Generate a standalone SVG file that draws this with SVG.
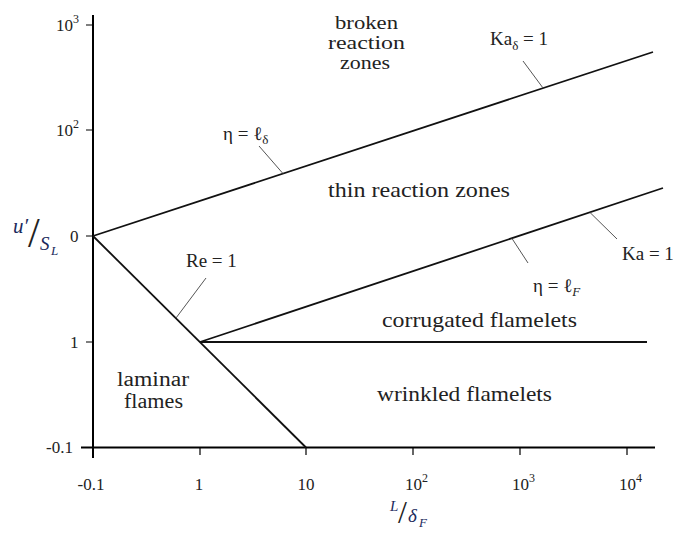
<svg xmlns="http://www.w3.org/2000/svg" width="675" height="533" viewBox="0 0 675 533">
<style>
.axis{stroke:#000;stroke-width:2;fill:none}
.tick{stroke:#000;stroke-width:1.2;fill:none}
.curve{stroke:#111;stroke-width:1.8;fill:none}
.leader{stroke:#555;stroke-width:1;fill:none}
text{font-family:"Liberation Serif","DejaVu Serif",serif;fill:#222}
.tk{font-size:17px}
.rg{font-size:21px}
.rs{font-size:20px}
.rb{font-size:18px}
.ln{font-size:19px}
.math{font-family:"Liberation Serif","DejaVu Serif",serif;font-style:italic;fill:#1b2a5c}
</style>
<rect width="675" height="533" fill="#fff"/>
<g id="axes">
<line class="axis" x1="93" y1="15" x2="93" y2="458"/>
<line class="axis" x1="81" y1="447.5" x2="655" y2="447.5"/>
<path class="tick" d="M86,25H93M86,130H93M86,236H93M86,342H93M200,447V455M306,447V455M413,447V455M520,447V455M627,447V455"/>
<text class="tk" x="56" y="31">10<tspan font-size="12" dy="-8">3</tspan></text>
<text class="tk" x="56" y="136">10<tspan font-size="12" dy="-8">2</tspan></text>
<text class="tk" x="70" y="242">0</text>
<text class="tk" x="70" y="348">1</text>
<text class="tk" x="46" y="453">-0.1</text>
<text class="tk" x="91" y="490" text-anchor="middle">-0.1</text>
<text class="tk" x="199" y="490" text-anchor="middle">1</text>
<text class="tk" x="306" y="490" text-anchor="middle">10</text>
<text class="tk" x="405" y="490">10<tspan font-size="12" dy="-8">2</tspan></text>
<text class="tk" x="512" y="490">10<tspan font-size="12" dy="-8">3</tspan></text>
<text class="tk" x="619" y="490">10<tspan font-size="12" dy="-8">4</tspan></text>
</g>
<g id="y-title">
<text class="math" x="13" y="233" font-size="21">u′</text>
<text x="28" y="247" font-size="42" fill="#111">/</text>
<text class="math" x="40" y="250" font-size="19">S</text>
<text class="math" x="51" y="255" font-size="13">L</text>
</g>
<g id="x-title">
<text class="math" x="390" y="511" font-size="15">L</text>
<text x="398" y="523" font-size="32" fill="#111">/</text>
<text class="math" x="408" y="522" font-size="19">δ</text>
<text class="math" x="419" y="527" font-size="13">F</text>
</g>
<g id="connectors">
<line id="eta-delta" class="curve" x1="93" y1="236" x2="653" y2="52"/>
<line id="re1" class="curve" x1="93" y1="236" x2="306" y2="447.5"/>
<line id="ka1" class="curve" x1="200" y1="342" x2="663" y2="188"/>
<line id="corr" class="curve" x1="200" y1="342" x2="647" y2="342"/>
<line class="leader" x1="259" y1="146" x2="283" y2="173.6"/>
<line class="leader" x1="523" y1="61" x2="543" y2="88"/>
<line class="leader" x1="206" y1="278" x2="176" y2="318"/>
<line class="leader" x1="512" y1="238.5" x2="528" y2="263"/>
<line class="leader" x1="590" y1="212.5" x2="617" y2="239"/>
</g>
<g id="label-eta-delta"><text class="ln" x="223" y="140">η = ℓ<tspan font-size="13" dy="4">δ</tspan></text></g>
<g id="label-ka-delta"><text class="ln" x="490" y="45">Ka<tspan font-size="13" dy="5">δ</tspan><tspan dy="-5"> = 1</tspan></text></g>
<g id="label-re"><text class="ln" x="186" y="267">Re = 1</text></g>
<g id="label-eta-f"><text class="ln" x="533" y="292">η = ℓ<tspan font-size="13" dy="4" font-style="italic">F</tspan></text></g>
<g id="label-ka"><text class="ln" x="622" y="260">Ka = 1</text></g>
<g id="broken">
<text class="rb" x="335" y="29" textLength="63" lengthAdjust="spacingAndGlyphs">broken</text>
<text class="rb" x="328" y="49" textLength="77" lengthAdjust="spacingAndGlyphs">reaction</text>
<text class="rb" x="340" y="69" textLength="50" lengthAdjust="spacingAndGlyphs">zones</text>
</g>
<g id="thin"><text class="rg" x="328" y="197" textLength="182" lengthAdjust="spacingAndGlyphs">thin reaction zones</text></g>
<g id="corrugated"><text class="rg" x="382" y="327" textLength="195" lengthAdjust="spacingAndGlyphs">corrugated flamelets</text></g>
<g id="wrinkled"><text class="rg" x="377" y="401" textLength="175" lengthAdjust="spacingAndGlyphs">wrinkled flamelets</text></g>
<g id="laminar">
<text class="rs" x="117" y="386" textLength="72" lengthAdjust="spacingAndGlyphs">laminar</text>
<text class="rs" x="124" y="408" textLength="59" lengthAdjust="spacingAndGlyphs">flames</text>
</g>
</svg>
